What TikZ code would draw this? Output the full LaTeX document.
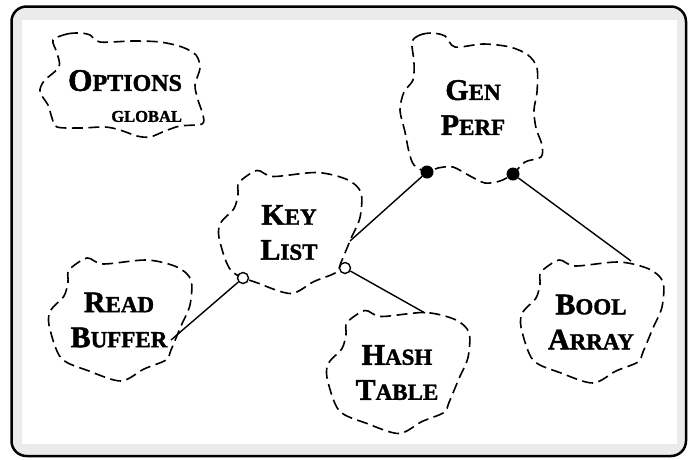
\documentclass[tikz,border=0pt]{standalone}
\usepackage{fontspec}
\setmainfont{Liberation Serif}[BoldFeatures = {FakeBold = 1.5}]
\usepackage{tikz}
\definecolor{framegray}{RGB}{235,235,235}
\newcommand{\capfirst}[2]{#1{\fontsize{23}{35}\selectfont #2}}
\begin{document}
\begin{tikzpicture}
			[
				x = 1pt, y = -1pt,
				classname/.style = {font = \bfseries\fontsize{30}{35}\selectfont, align = center, inner sep = 0pt},
				cloudline/.style = {dash pattern = on 11pt off 5.5pt, line width = 1.6pt},
				hasline/.style = {line width = 1.4pt},
				byvalue/.style = {circle, fill, inner sep = 0pt, minimum size = 13pt},
				byref/.style = {circle, draw, fill = white, line width = 1.4pt, inner sep = 0pt, minimum size = 11pt}
			]
			\useasboundingbox (0,0) rectangle (694,459);
			%
			\draw [fill = framegray, line width = 2.5pt, rounded corners = 15pt] (11.5,6.5) rectangle (686,456);
			\fill [white] (22,20) rectangle (677,444);
			%
			\node (options) [classname, align = right, font = \bfseries\fontsize{31.5}{31}\selectfont] at (125,96) {O{\fontsize{24}{31}\selectfont PTIONS}\\{\fontsize{16.5}{31}\selectfont GLOBAL}};
			\node (genperf) [classname] at (473,107.5) {\capfirst{G}{EN}\\\capfirst{P}{ERF}};
			\node (keylist) [classname] at (289,232.5) {\capfirst{K}{EY}\\\capfirst{L}{IST}};
			\node (readbuf) [classname] at (119,320) {\capfirst{R}{EAD}\\\capfirst{B}{UFFER}};
			\node (hashtab) [classname] at (397,372.5) {\capfirst{H}{ASH}\\\capfirst{T}{ABLE}};
			\node (boolarr) [classname] at (591,322) {\capfirst{B}{OOL}\\\capfirst{A}{RRAY}};
			%
			\draw [cloudline] plot [smooth cycle] coordinates {(53,40) (67,34) (80,33) (90,35) (100,42) (133,41) (160,42) (182,47) (196,55) (200,68) (195,85) (198,100) (203,115) (202,124) (180,126) (165,131) (150,137) (137,136) (120,130) (105,127) (80,128) (57,127) (52,118) (48,105) (40,92) (44,81) (59,67) (57,53)};
			\draw [cloudline] plot [smooth cycle] coordinates {(412,42) (420,35) (432,33) (445,36) (455,47) (483,44) (510,47) (528,55) (537,68) (537,92) (534,110) (536,128) (542,145) (541,157) (525,162) (513,174) (500,181) (485,183) (470,176) (453,167) (438,168) (427,172) (414,165) (409,152) (405,132) (400,110) (404,92) (413,80) (414,62)};
			\foreach \c in {keylist, readbuf, hashtab, boolarr}
				\draw [cloudline, shift = {(\c)}] plot [smooth cycle] coordinates {(-50,-50) (-32,-62) (-16,-56) (28,-60) (58,-53) (72,-40) (71,-15) (62,6) (52,30) (47,40) (25,49) (2,61) (-30,51) (-58,38) (-70,5) (-68,-10) (-55,-24) (-51,-38)};
			%
			\node (genperf-sw) [byvalue] at (427,172) {};
			\node (genperf-se) [byvalue] at (513,174) {};
			\node (keylist-sw) [byref] at (243,278) {};
			\node (keylist-se) [byref] at (345,268) {};
			\coordinate (keylist-ne) at (350,241);
			\coordinate (boolarr-n) at (631,261);
			\coordinate (hashtab-n) at (425,313);
			\coordinate (readbuf-e) at (171,340);
			%
			\draw [hasline] (genperf-sw) -- (keylist-ne);
			\draw [hasline] (genperf-se) -- (boolarr-n);
			\draw [hasline] (keylist-se) -- (hashtab-n);
			\draw [hasline] (keylist-sw) -- (readbuf-e);
			%
		\end{tikzpicture}
\end{document}
